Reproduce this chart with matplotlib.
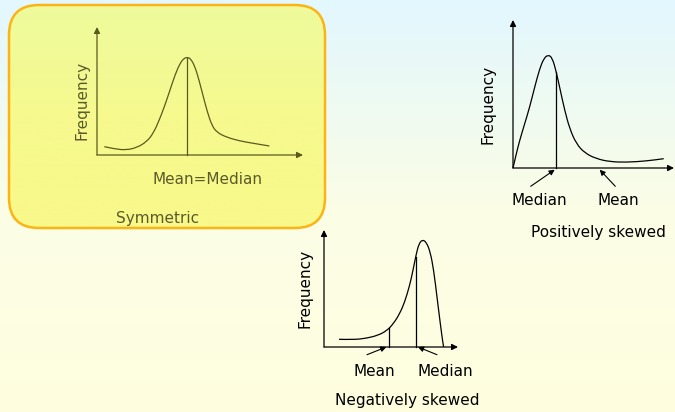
import numpy as np
import matplotlib
matplotlib.use("Agg")
import matplotlib.pyplot as plt
import matplotlib.transforms as mtransforms
from matplotlib.patches import FancyBboxPatch, PathPatch
from matplotlib.path import Path
from matplotlib.colors import LinearSegmentedColormap

# =========================
# DATA (curve shapes, local units: x right from origin, y up from x axis)
# =========================
sym_x = [7.3, 18.0, 29.0, 39.7, 49.7, 56.3, 62.3, 68, 73, 78, 83, 87, 90.3,
         93.7, 98, 102, 106.3, 110.3, 114.7, 119.7, 129.7, 143, 156.3, 172.3]
sym_y = [8.3, 6.0, 5.0, 7.3, 13.3, 21.7, 35, 50, 65, 80, 91.7, 96.7, 97.7,
         96.3, 88.3, 75, 58.3, 43.3, 30, 22.7, 17.7, 14, 11.7, 9]
sym_center = 90.3

pos_x = [0, 3.3, 6.7, 11.7, 16.7, 21.7, 26.7, 30.7, 35, 39.3, 43.3, 47.3,
         51.7, 56.7, 63.3, 71.7, 83.3, 96.7, 113.3, 133.3, 150.7]
pos_y = [0, 14.3, 27.7, 44.3, 61, 81, 99.3, 109.3, 113.3, 110.3, 96, 77.7,
         57.7, 39.3, 24.3, 15, 9.3, 6.3, 5.7, 7, 9.3]
pos_median = 43.3

neg_x = [15, 29, 42.3, 54, 62.3, 69, 75.7, 80.7, 85.7, 89, 92.3, 95, 98.3,
         102.3, 106.3, 109.7, 113, 116.3, 119, 119.7]
neg_y = [7.7, 7.3, 8.7, 11.7, 16, 22.7, 33.3, 45, 61.7, 76.7, 93.3, 103.3,
         107.3, 105, 95, 76.7, 50, 23.3, 3.3, 0]
neg_mean = 65
neg_median = 91.7

labels_sym = ["Mean=Median", "Symmetric"]
labels_pos = ["Median", "Mean", "Positively skewed"]
labels_neg = ["Mean", "Median", "Negatively skewed"]

# =========================
# FIGURE
# =========================
W, H = 675, 412
fig = plt.figure(figsize=(W / 100, H / 100), dpi=100)
ax = fig.add_axes([0, 0, 1, 1])
ax.axis("off")

plt.rcParams["font.family"] = ["DejaVu Sans"]
FS = 11

# background gradient
bg = LinearSegmentedColormap.from_list("bg", ["#e2f7ff", "#fbfde6", "#ffffdf"])
grad = np.linspace(0, 1, 256).reshape(-1, 1)
ax.imshow(grad, cmap=bg, extent=[0, W, H, 0], aspect="auto", zorder=0)

# symmetric panel
panel = FancyBboxPatch((9, 5), 316, 223, boxstyle="round,pad=0,rounding_size=30",
                       facecolor="none", edgecolor="#fcb414", lw=1.8, zorder=3)
ax.add_patch(panel)
pg = LinearSegmentedColormap.from_list("pg", ["#eefb9c", "#f6f98e", "#f9f98a"])
im = ax.imshow(grad, cmap=pg, extent=[9, 325, 228, 5], aspect="auto", zorder=1)
im.set_clip_path(panel)
ax.set_xlim(0, W)
ax.set_ylim(H, 0)


def local(ox, oy):
    return mtransforms.Affine2D().scale(1, -1).translate(ox, oy) + ax.transData


def smooth_curve(xs, ys, tr, color):
    # quadratic bezier through midpoints, read points act as control points
    pts = np.column_stack([xs, ys])
    verts = [pts[0]]
    codes = [Path.MOVETO]
    for i in range(1, len(pts) - 1):
        verts += [pts[i], (pts[i] + pts[i + 1]) / 2]
        codes += [Path.CURVE3, Path.CURVE3]
    verts.append(pts[-1])
    codes.append(Path.LINETO)
    ax.add_patch(PathPatch(Path(verts, codes), facecolor="none", edgecolor=color,
                           lw=0.9, transform=tr, zorder=5))


def axes_arrows(tr, xlen, ylen, color):
    kw = dict(arrowstyle="-|>", lw=0.9, color=color, mutation_scale=9,
              shrinkA=0, shrinkB=0)
    ax.annotate("", xy=(xlen, 0), xytext=(0, 0), xycoords=tr, textcoords=tr,
                arrowprops=kw, zorder=5)
    ax.annotate("", xy=(0, ylen), xytext=(0, 0), xycoords=tr, textcoords=tr,
                arrowprops=kw, zorder=5)


def pointer(tr, start, end):
    ax.annotate("", xy=end, xytext=start, xycoords=tr, textcoords=tr,
                arrowprops=dict(arrowstyle="-|>", lw=0.8, color="black",
                                mutation_scale=8, shrinkA=0, shrinkB=0), zorder=5)


# ---- symmetric ----
olive = "#5a5a1e"
tr = local(97, 155)
smooth_curve(sym_x, sym_y, tr, olive)
ax.plot([sym_center, sym_center], [0, max(sym_y) - 1], color=olive, lw=0.9,
        transform=tr, zorder=5)
axes_arrows(tr, 206, 128, olive)
ax.text(-15, 55, "Frequency", rotation=90, ha="center", va="center",
        fontsize=FS, color="#5a5a2a", transform=tr, zorder=6)
ax.text(111, -24, labels_sym[0], ha="center", va="center", fontsize=FS,
        color="#5a5a2a", transform=tr, zorder=6)
ax.text(61, -63, labels_sym[1], ha="center", va="center", fontsize=FS,
        color="#5a5a2a", transform=tr, zorder=6)

# ---- positively skewed ----
tr = local(513, 168)
smooth_curve(pos_x, pos_y, tr, "black")
ax.plot([pos_median, pos_median], [0, np.interp(pos_median, pos_x, pos_y)],
        color="black", lw=0.9, transform=tr, zorder=5)
axes_arrows(tr, 161, 148, "black")
pointer(tr, (17.7, -18.3), (41.7, -1.7))
pointer(tr, (102.3, -18.3), (86.7, -1.7))
ax.text(-25, 64, "Frequency", rotation=90, ha="center", va="center",
        fontsize=FS, transform=tr, zorder=6)
ax.text(26.7, -32.3, labels_pos[0], ha="center", va="center", fontsize=FS,
        transform=tr, zorder=6)
ax.text(105.7, -32.3, labels_pos[1], ha="center", va="center", fontsize=FS,
        transform=tr, zorder=6)
ax.text(85, -64, labels_pos[2], ha="center", va="center", fontsize=FS,
        transform=tr, zorder=6)

# ---- negatively skewed ----
tr = local(324, 347)
smooth_curve(neg_x, neg_y, tr, "black")
for xv in (neg_mean, neg_median):
    ax.plot([xv, xv], [0, np.interp(xv, neg_x, neg_y)], color="black", lw=0.9,
            transform=tr, zorder=5)
axes_arrows(tr, 134, 117, "black")
pointer(tr, (43, -7.7), (62.3, 0))
pointer(tr, (113, -7.7), (94, 0))
ax.text(-19.3, 58.3, "Frequency", rotation=90, ha="center", va="center",
        fontsize=FS, transform=tr, zorder=6)
ax.text(50, -25, labels_neg[0], ha="center", va="center", fontsize=FS,
        transform=tr, zorder=6)
ax.text(121.7, -25, labels_neg[1], ha="center", va="center", fontsize=FS,
        transform=tr, zorder=6)
ax.text(83, -53, labels_neg[2], ha="center", va="center", fontsize=FS,
        transform=tr, zorder=6)

fig.savefig("out.png", dpi=100)
